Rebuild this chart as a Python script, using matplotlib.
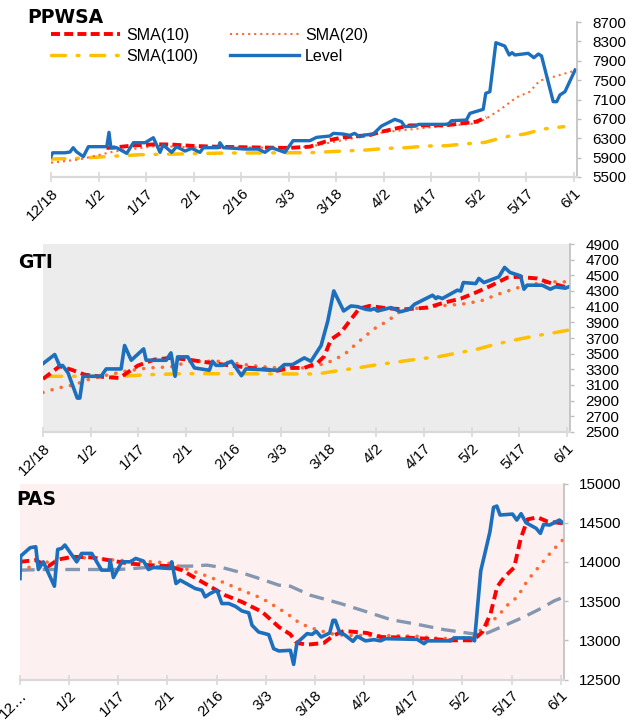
import numpy as np
import pandas as pd
import matplotlib
matplotlib.use("Agg")
import matplotlib.pyplot as plt

plt.rcParams['font.family'] = ['Liberation Sans', 'DejaVu Sans']

# day offsets from 12/18, value
base = pd.Timestamp("2022-12-18")
tick_days = [0, 15, 30, 45, 60, 75, 90, 105, 120, 135, 150, 165]
tick_labels = ["12/18", "1/2", "1/17", "2/1", "2/16", "3/3", "3/18",
               "4/2", "4/17", "5/2", "5/17", "6/1"]
pas_tick_labels = ["12…"] + tick_labels[1:]

# ---- PPWSA ----
ppwsa_level = [(0, 5920), (0.5, 6000), (4.4, 6000), (6, 6016), (7, 6105), (8, 6023),
               (10.2, 5920), (11.8, 6126), (17.6, 6126), (18.3, 6422), (18.9, 6105),
               (20.7, 6105), (23.9, 5988), (26, 6208), (29.7, 6208), (32.3, 6311),
               (34.4, 6009), (35.4, 6160), (38.1, 6009), (39.6, 6126), (42.3, 6036),
               (44.4, 6091), (47, 6009), (48.1, 6105), (52.8, 6105), (53.3, 6208),
               (54.4, 6105), (58, 6091), (61.2, 6077), (65.4, 6077), (67.5, 6009),
               (69.6, 6105), (71.7, 6057), (73.8, 6009), (76.4, 6250), (81.7, 6250),
               (83.8, 6318), (88, 6346), (89.1, 6401), (92.2, 6387), (94.3, 6360),
               (95.8, 6401), (97.4, 6332), (99, 6366), (101.7, 6387), (104.3, 6552),
               (108.5, 6690), (110.6, 6642), (111.7, 6539), (115, 6552), (116, 6587),
               (124.4, 6587), (125.5, 6600), (126.4, 6662), (131.1, 6676), (132.2, 6814),
               (136.4, 6897), (137.2, 7227), (138.5, 7261), (140.4, 8273), (143.2, 8204),
               (144.6, 8019), (145.5, 8067), (146.4, 8019), (150.6, 8053), (152.4, 7963),
               (153.8, 8039), (154.8, 8000), (158.5, 7055), (159.6, 7055), (160.6, 7193),
               (162.2, 7261), (165.4, 7709)]
ppwsa_sma10 = [(17.5, 6100), (20, 6110), (26, 6150), (33, 6175), (38, 6170), (45, 6140),
               (55, 6120), (65, 6110), (75, 6100), (81.7, 6126), (88, 6263), (92.2, 6318),
               (100.6, 6366), (104.3, 6435), (109, 6504), (113.3, 6566), (124.4, 6566),
               (127.9, 6594), (134.2, 6642), (137.4, 6731)]
ppwsa_sma20 = [(0, 5795), (9.1, 5864), (19.6, 6023), (33.3, 6140), (45, 6110), (60, 6110),
               (75, 6105), (81.7, 6126), (92.2, 6263), (104.8, 6422), (119.5, 6525),
               (134.2, 6607), (137.4, 6710), (141.6, 6883), (146.9, 7144), (151.1, 7261),
               (154.2, 7489), (159.5, 7585), (165.3, 7695)]
ppwsa_sma100 = [(0, 5871), (8, 5885), (17, 5919), (28, 5960), (40, 5975), (55, 5995),
                (81.7, 6002), (92.2, 6036), (99.5, 6057), (105.8, 6091), (112.2, 6105),
                (118.5, 6140), (124.8, 6146), (130.1, 6180), (136.9, 6215), (141.6, 6298),
                (144.8, 6346), (149.5, 6387), (155.3, 6490), (161.8, 6539)]

# ---- GTI ----
gti_level = [(0, 3373), (3.7, 3489), (5.2, 3348), (6.2, 3348), (7.9, 3254), (10.8, 2933),
             (11.6, 2933), (12.6, 3211), (18.3, 3211), (19.9, 3305), (24.6, 3305),
             (25.7, 3604), (27.8, 3416), (31.7, 3561), (32.5, 3416), (38.8, 3416),
             (40.3, 3510), (41.6, 3211), (42.4, 3459), (45.6, 3459), (47.7, 3318),
             (52.4, 3288), (53.4, 3403), (54.5, 3351), (56.6, 3351), (59.4, 3403),
             (60.8, 3318), (62.5, 3219), (63.9, 3305), (73.9, 3288), (76, 3360),
             (78.6, 3360), (82.3, 3446), (84.4, 3403), (87.6, 3604), (89.7, 3916),
             (91.6, 4301), (94.7, 4045), (97, 4109), (99.1, 4100), (101.7, 4066),
             (103.2, 4058), (104.3, 4075), (105.4, 4045), (109.6, 4088), (112.7, 4036),
             (115.4, 4066), (117, 4130), (122.7, 4246), (123.8, 4204), (124.3, 4225),
             (125.8, 4204), (130.5, 4310), (131.6, 4300), (132.4, 4408), (136.3, 4395),
             (137.3, 4460), (138.9, 4408), (143.6, 4481), (145.4, 4601), (147.1, 4537),
             (150.4, 4494), (151.5, 4323), (152.5, 4374), (157.2, 4374), (159.8, 4323),
             (161.4, 4353), (164.5, 4336), (165.6, 4353)]
gti_sma10 = [(0, 3177), (5.2, 3339), (8.9, 3296), (13.1, 3232), (19.4, 3202), (24.1, 3189),
             (27.2, 3275), (29.9, 3348), (35.1, 3425), (40.3, 3446), (45.6, 3425),
             (52.9, 3382), (59.2, 3348), (65.5, 3318), (73.9, 3283), (78, 3318),
             (82.3, 3318), (86.5, 3382), (88.6, 3467), (90.7, 3681), (93.8, 3767),
             (97, 3938), (99.6, 4075), (102.8, 4109), (108.5, 4079), (113.8, 4066),
             (121.1, 4088), (126.4, 4152), (131.6, 4203), (135.8, 4271), (141, 4365),
             (146.3, 4472), (149.4, 4481), (155.7, 4460), (159.4, 4408), (165.1, 4344)]
gti_sma20 = [(0, 3005), (4.7, 3061), (10, 3104), (14.2, 3168), (19.4, 3219), (25.7, 3275),
             (33.1, 3318), (40.3, 3331), (46.6, 3403), (55, 3403), (61.3, 3373),
             (67.6, 3339), (73.9, 3318), (82.3, 3318), (86.5, 3348), (90.7, 3403),
             (94.9, 3489), (99, 3638), (104.3, 3818), (108.5, 3916), (112.7, 4045),
             (117, 4075), (124.4, 4109), (131.6, 4130), (137.9, 4173), (144.2, 4271),
             (150.4, 4353), (155.7, 4395), (160.9, 4417), (165.6, 4417)]
gti_sma100 = [(1.5, 3211), (25, 3211), (33, 3232), (45, 3245), (82.3, 3241), (86.5, 3241),
              (91.7, 3275), (99, 3318), (105.4, 3360), (111.7, 3395), (119.1, 3437),
              (124.4, 3459), (130.6, 3510), (136.4, 3553), (143.1, 3626), (148.4, 3673),
              (155.7, 3732), (161, 3767), (165.6, 3801)]

# ---- PAS ----
pas_level = [(0, 13788), (0.2, 14074), (3.1, 14181), (4.8, 14193), (5.6, 13903),
             (7.1, 14001), (10.5, 13690), (11.5, 14159), (12.7, 14172), (13.7, 14215),
             (17.3, 14001), (18.8, 14108), (21.9, 14108), (24.9, 13895), (27.2, 13895),
             (27.5, 14023), (28.5, 13801), (31.1, 14001), (33.7, 14001), (35.3, 14044),
             (37.7, 14010), (39.2, 13903), (40.7, 13929), (45.8, 13916), (46.3, 14001),
             (47.6, 13724), (48.9, 13767), (53.5, 13660), (55.5, 13639), (56.5, 13554),
             (58, 13596), (60.1, 13639), (61.6, 13469), (63.7, 13469), (65.7, 13434),
             (67.7, 13375), (69.8, 13350), (70.8, 13192), (72.8, 13106), (75.9, 13072),
             (77.4, 12893), (79, 12864), (82.5, 12872), (83.5, 12693), (84.5, 12966),
             (87.6, 13085), (89.1, 13075), (90.4, 13115), (91.9, 13042), (94.5, 13093),
             (95.5, 13255), (96.2, 13255), (97.6, 13093), (99, 13072), (101.6, 12987),
             (102.9, 13051), (105.4, 12993), (108, 13008), (110, 12993), (111.5, 13021),
             (121.2, 13012), (123.3, 12957), (124.3, 12993), (131.4, 12993), (132.4, 13030),
             (137.5, 13030), (138.7, 12993), (140.6, 13886), (142.1, 14151), (143.4, 14385),
             (144.5, 14696), (145.5, 14712), (146.5, 14598), (150.3, 14610), (151.6, 14534),
             (152.9, 14615), (154.4, 14500), (157.5, 14428), (158.8, 14364), (159.8, 14479),
             (161.6, 14470), (164.6, 14534), (165.6, 14500)]
pas_sma10 = [(0, 14001), (4.6, 14023), (8.7, 13946), (11.7, 14031), (16, 14065),
             (21.9, 14057), (27, 14023), (33.1, 13980), (39.2, 13959), (45.3, 13946),
             (49.4, 13895), (55.5, 13746), (62.6, 13575), (67.7, 13490), (73.9, 13362),
             (79, 13170), (82.5, 13076), (84.5, 12966), (87.6, 12944), (92.7, 12966),
             (95.8, 13064), (98.8, 13119), (105.9, 13093), (110, 13042), (118.2, 13034),
             (125.3, 13017), (131.4, 13000), (138.3, 13000), (141.1, 13106), (143.6, 13341),
             (145.6, 13682), (147.7, 13801), (150.8, 13929), (152.8, 14300), (154.9, 14543),
             (157.9, 14569), (161, 14514), (165.6, 14493)]
pas_sma20 = [(0, 13895), (6.6, 13980), (10.7, 14023), (16, 14053), (21.9, 14053),
             (29, 14023), (35.1, 14010), (41.2, 14001), (45.8, 13980), (49.4, 13929),
             (55.5, 13844), (61.6, 13746), (67.7, 13639), (73.9, 13533), (79, 13405),
             (82.5, 13310), (85.5, 13213), (89.6, 13149), (94.7, 13085), (98.8, 13064),
             (105.9, 13059), (113.1, 13059), (121.2, 13051), (127.3, 13025), (132.4, 13021),
             (138.3, 13042), (141.6, 13170), (145.6, 13298), (148.7, 13447), (151.8, 13554),
             (154.9, 13767), (157.9, 13916), (161, 14074), (163.6, 14193), (165.6, 14279)]
pas_sma100 = [(0, 13895), (8, 13903), (30, 13903), (45, 13946), (52, 13946), (57, 13959),
              (61.6, 13929), (67.7, 13861), (73.9, 13776), (79, 13703), (82.5, 13690),
              (88.6, 13575), (97.8, 13469), (105.9, 13362), (113.1, 13264), (121.2, 13204),
              (129.4, 13136), (136.5, 13093), (139.6, 13076), (142.6, 13093), (148.7, 13204),
              (153.8, 13298), (158.9, 13405), (163, 13503), (165.6, 13546)]

BLUE = "#1b6fbd"
RED = "#ff0000"
ORANGE = "#ff6a33"
GOLD = "#ffc000"
SLATE = "#8497b0"


def xy(pairs):
    d = np.array([p[0] for p in pairs])
    v = np.array([p[1] for p in pairs])
    return base + pd.to_timedelta(d, unit="D"), v


def style_axis(ax, yticks, ylim, xlabels, face):
    ax.set_facecolor(face)
    ax.set_xlim(base, base + pd.Timedelta(days=166))
    ax.set_ylim(*ylim)
    ax.set_xticks([base + pd.Timedelta(days=d) for d in tick_days])
    ax.set_xticklabels(xlabels, rotation=45, ha="right", rotation_mode="anchor",
                       fontsize=11)
    ax.yaxis.tick_right()
    ax.set_yticks(yticks)
    ax.set_yticklabels([str(t) for t in yticks], fontsize=11)
    for s in ["left", "top"]:
        ax.spines[s].set_visible(False)
    ax.spines["bottom"].set_color("#d9d9d9")
    ax.spines["bottom"].set_linewidth(1.6)
    ax.spines["right"].set_color("#bfbfbf")
    ax.spines["right"].set_linewidth(1.2)
    ax.tick_params(axis="x", direction="inout", length=7, width=1.2,
                   color="#d9d9d9", pad=3)
    ax.tick_params(axis="y", direction="out", length=3, width=1,
                   color="#bfbfbf", pad=8)


fig = plt.figure(figsize=(6.26, 7.25), dpi=100)

# top panel
ax1 = fig.add_axes([51 / 626, 1 - 177 / 725, 526 / 626, 155 / 725])
x, y = xy(ppwsa_sma100)
l100, = ax1.plot(x, y, color=GOLD, lw=2.5, dashes=(4, 3.4, 0.5, 3.4),
                 dash_capstyle="round", label="SMA(100)")
x, y = xy(ppwsa_sma20)
l20, = ax1.plot(x, y, color=ORANGE, lw=1.5, dashes=(1, 1.9), label="SMA(20)")
x, y = xy(ppwsa_sma10)
l10, = ax1.plot(x, y, color=RED, lw=2.8, dashes=(2.3, 1.1), label="SMA(10)")
x, y = xy(ppwsa_level)
llv, = ax1.plot(x, y, color=BLUE, lw=2.4, label="Level")
style_axis(ax1, list(range(5500, 8701, 400)), (5500, 8700), tick_labels, "white")
ax1.legend(handles=[l10, l100, l20, llv], ncol=2, loc="upper left",
           bbox_to_anchor=(51 / 626, 1 - 28 / 725), bbox_transform=fig.transFigure,
           frameon=False, fontsize=11.5, handlelength=4.3, handletextpad=0.4,
           columnspacing=2.0, labelspacing=0.35, borderpad=0, borderaxespad=0)

# middle panel
ax2 = fig.add_axes([43 / 626, 1 - 432 / 725, 527 / 626, 188 / 725])
x, y = xy(gti_sma100)
ax2.plot(x, y, color=GOLD, lw=2.5, dashes=(4, 3.4, 0.5, 3.4), dash_capstyle="round")
x, y = xy(gti_sma20)
ax2.plot(x, y, color=ORANGE, lw=2.6, dashes=(0.01, 2.6), dash_capstyle="round")
x, y = xy(gti_sma10)
ax2.plot(x, y, color=RED, lw=2.8, dashes=(2.4, 1.3))
x, y = xy(gti_level)
ax2.plot(x, y, color=BLUE, lw=2.6)
style_axis(ax2, list(range(2500, 4901, 200)), (2500, 4900), tick_labels, "#ececec")

# bottom panel
ax3 = fig.add_axes([20 / 626, 1 - 679.5 / 725, 544 / 626, 196 / 725])
x, y = xy(pas_sma100)
ax3.plot(x, y, color=SLATE, lw=2.4, dashes=(4.4, 2.4))
x, y = xy(pas_sma20)
ax3.plot(x, y, color=ORANGE, lw=2.6, dashes=(0.01, 2.6), dash_capstyle="round")
x, y = xy(pas_sma10)
ax3.plot(x, y, color=RED, lw=2.8, dashes=(2.4, 1.3))
x, y = xy(pas_level)
ax3.plot(x, y, color=BLUE, lw=2.6)
style_axis(ax3, list(range(12500, 15001, 500)), (12500, 15000), pas_tick_labels, "#fdf0f0")

for name, px, py in [("PPWSA", 27, 23), ("GTI", 18, 268), ("PAS", 16, 505)]:
    fig.text(px / 626, 1 - py / 725, name, fontsize=13.5, fontweight="bold",
             family="DejaVu Sans", va="baseline", ha="left")

fig.savefig("out.png", dpi=100)
